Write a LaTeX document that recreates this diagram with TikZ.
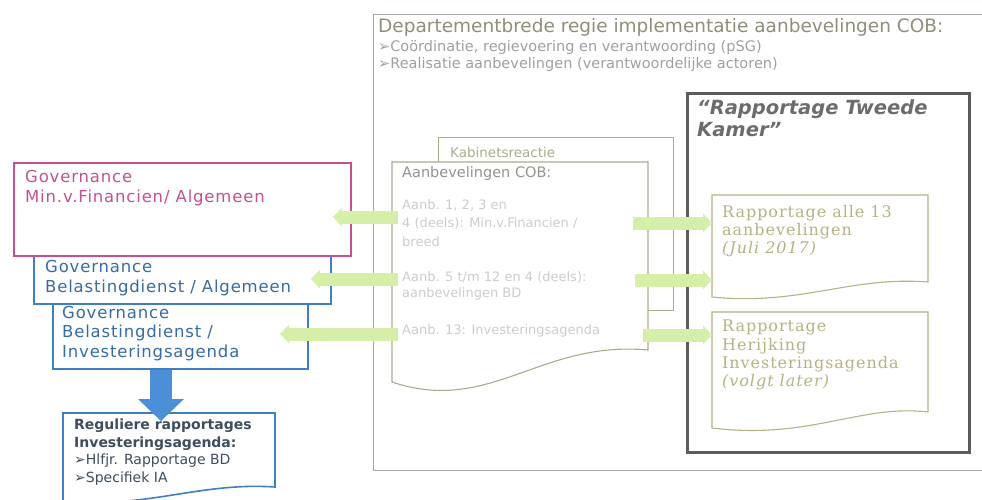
\documentclass[tikz,border=0pt]{standalone}
\usepackage{fontspec}
\setmainfont{DejaVu Sans}
\newfontfamily\govfont[LetterSpace=5]{DejaVu Sans}
\newfontfamily\repfont[LetterSpace=6]{DejaVu Serif}
\usepackage{xcolor}
\usepackage{tikz}
\usetikzlibrary{arrows.meta}

\definecolor{govpink}{HTML}{C4508F}
\definecolor{govblue}{HTML}{3F7EC0}
\definecolor{govbluetext}{HTML}{356BA6}
\definecolor{framegray}{HTML}{A9A9A1}
\definecolor{olivegray}{HTML}{ABAB8C}
\definecolor{reportolive}{HTML}{B5B283}
\definecolor{darkframe}{HTML}{5C5C5C}
\definecolor{lightgreen}{HTML}{D5EEA8}
\definecolor{arrowblue}{HTML}{4A8FD8}
\definecolor{slatetext}{HTML}{3E4D60}

\begin{document}
\begin{tikzpicture}[x=1pt,y=-1pt,
    txt/.style={anchor=north west,inner sep=0pt,align=left},
    govbox/.style={draw=#1,line width=1.6pt,anchor=north west,inner sep=0pt},
    docline/.style={draw=olivegray,line width=1.1pt,fill=white},
    greenarrow/.style={draw=lightgreen,line width=13pt,
      -{Triangle[length=9pt,width=19pt,line width=0pt]}},
    bluearrow/.style={draw=arrowblue,line width=22pt,
      -{Triangle[length=22pt,width=46pt,line width=0pt]}}]
  \useasboundingbox (0,0) rectangle (982,500);

  % departementbrede regie
  \node[draw=framegray,line width=1.2pt,anchor=north west,minimum width=640pt,
    minimum height=456pt] (dept) at (373,14) {};
  \node[txt,text=gray!85!olive,font=\fontsize{18.5}{20}\selectfont] (depttitle)
    at (378,18) {Departementbrede regie implementatie aanbevelingen COB:};
  \node[txt,text=gray!75,font=\fontsize{14.5}{17}\selectfont] (deptlines)
    at (378,40) {➢Coördinatie, regievoering en verantwoording (pSG)\\
    ➢Realisatie aanbevelingen (verantwoordelijke actoren)};

  % kabinetsreactie en aanbevelingen
  \node[draw=olivegray,line width=1.1pt,anchor=north west,minimum width=235pt,
    minimum height=173pt] (kabinet) at (438,137) {};
  \node[txt,text=olivegray,font=\fontsize{13.5}{15}\selectfont] (kabinettext)
    at (450,147) {Kabinetsreactie};
  \draw[docline] (392,162) -- (648,162) -- (648,350)
    .. controls (540,340) and (490,415) .. (392,382) -- cycle;
  \node[txt,text=gray!85,font=\fontsize{14.5}{16}\selectfont] (aanbtitle)
    at (402,166) {Aanbevelingen COB:};
  \node[txt,text=gray!40,font=\fontsize{13}{18.5}\selectfont] (aanbalg)
    at (402,199) {Aanb. 1, 2, 3 en\\4 (deels): Min.v.Financien /\\breed};
  \node[txt,text=gray!40,font=\fontsize{13}{16.5}\selectfont] (aanbbd)
    at (402,271) {Aanb. 5 t/m 12 en 4 (deels):\\aanbevelingen BD};
  \node[txt,text=gray!40,font=\fontsize{13}{15}\selectfont] (aanbinv)
    at (402,324) {Aanb. 13: Investeringsagenda};

  % rapportage tweede kamer
  \node[draw=darkframe,line width=3pt,anchor=north west,minimum width=282pt,
    minimum height=359pt] (tk) at (686,92) {};
  \node[txt,text=darkframe!90,font=\fontsize{19.5}{22}\selectfont\bfseries\itshape]
    (tktitle) at (697,99) {“Rapportage Tweede\\Kamer”};
  \draw[docline,draw=reportolive] (712,195) -- (928,195) -- (928,282)
    .. controls (850,276) and (800,306) .. (712,297) -- cycle;
  \node[txt,text=reportolive,font=\repfont\fontsize{16}{18}\selectfont] (tkalle)
    at (722,205) {Rapportage alle 13\\aanbevelingen\\\textit{(Juli 2017)}};
  \draw[docline,draw=reportolive] (712,312) -- (928,312) -- (928,412)
    .. controls (860,404) and (810,440) .. (712,428) -- cycle;
  \node[txt,text=reportolive,font=\repfont\fontsize{16}{18.3}\selectfont] (tkherijk)
    at (722,320) {Rapportage\\Herijking\\Investeringsagenda\\\textit{(volgt later)}};

  % governance
  \node[govbox=govblue,minimum width=297pt,minimum height=48pt] (govbd) at (33,255) {};
  \node[govbox=govblue,minimum width=255pt,minimum height=65pt] (govinv) at (52,303) {};
  \node[govbox=govpink,minimum width=337pt,minimum height=93pt] (govfin) at (13,162) {};
  \node[txt,text=govpink,font=\govfont\fontsize{16.5}{20}\selectfont] (govfintext)
    at (25,170) {Governance\\Min.v.Financien/ Algemeen};
  \node[txt,text=govbluetext,font=\govfont\fontsize{16.5}{20}\selectfont] (govbdtext)
    at (45,260) {Governance\\Belastingdienst / Algemeen};
  \node[txt,text=govbluetext,font=\govfont\fontsize{16.5}{19.5}\selectfont] (govinvtext)
    at (62,306) {Governance\\Belastingdienst /\\Investeringsagenda};

  % reguliere rapportages
  \draw[draw=govblue,line width=1.6pt,fill=white] (63,413) -- (275,413) -- (275,487)
    .. controls (200,482) and (150,508) .. (63,502) -- cycle;
  \coordinate (bt) at (161,421);
  \draw[bluearrow] (govinv.south -| bt) -- (bt);
  \node[txt,text=slatetext,font=\fontsize{14}{17.5}\selectfont] (regtext) at (74,419)
    {\textbf{Reguliere rapportages}\\\textbf{Investeringsagenda:}\\
    ➢Hlfjr. Rapportage BD\\➢Specifiek IA};

  % pijlen
  \foreach \n/\y/\xs/\xe in {1/217/398/333,2/279/398/311,3/334/398/280} {
    \coordinate (gs\n) at (\xs,\y);
    \coordinate (ge\n) at (\xe,\y);
    \draw[greenarrow] (gs\n) -- (ge\n);
  }
  \foreach \n/\y/\xs/\xe in {1/223/633/712,2/280/635/712,3/335/643/712} {
    \coordinate (rs\n) at (\xs,\y);
    \coordinate (re\n) at (\xe,\y);
    \draw[greenarrow] (rs\n) -- (re\n);
  }
\end{tikzpicture}
\end{document}
